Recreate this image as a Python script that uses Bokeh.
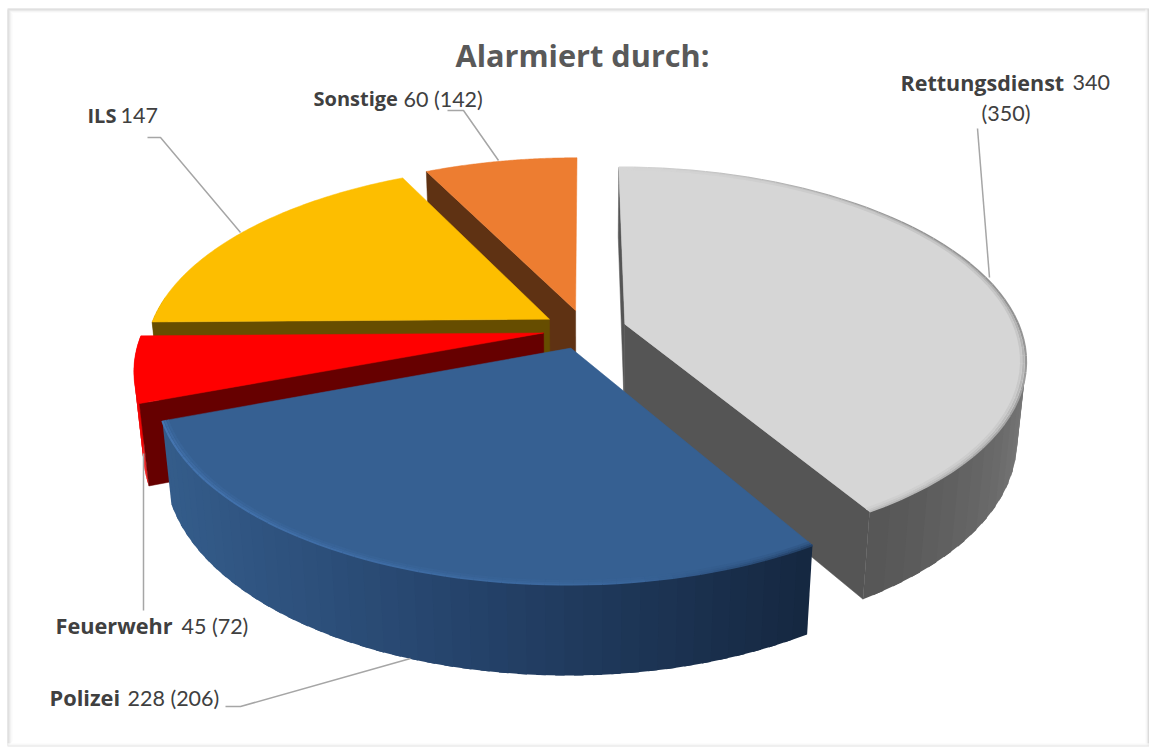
import math
from bokeh.plotting import figure
from bokeh.embed import file_html
from bokeh.resources import INLINE
from bokeh.core.properties import value
from bokeh.models import Range1d

# ---- data -------------------------------------------------------------
categories = ["Rettungsdienst", "Polizei", "Feuerwehr", "ILS", "Sonstige"]
values = [340, 228, 45, 147, 60]
value_labels = ["340", "228 (206)", "45 (72)", "147", "60 (142)"]
top_colors = ["#d6d6d6", "#366092", "#ff0000", "#fdbe00", "#ed7d31"]
cut_colors = ["#555555", "#2b4d75", "#660000", "#664d00", "#5f3213"]
title_text = "Alarmiert durch:"

# ---- projection of the tilted pie --------------------------------------
W, H = 1149, 747
CX, CY, A, B, K = 584.5, 328.8, 395.4, 186.4, 0.1795
LEFT_STRETCH = 1.012
EXPLODE = 0.105
DEPTH_H, DEPTH_M = 80.0, 0.02


def project(px, py, z=0.0):
    w = 1 - K * py + DEPTH_M * z
    ax = A * (LEFT_STRETCH if px < 0 else 1.0)
    return CX + ax * px / w, CY + (B * py + DEPTH_H * z) / w


def rgb(c):
    return "#%02x%02x%02x" % tuple(int(round(max(0, min(255, v)))) for v in c)


def mix(c1, c2, t):
    t = max(0.0, min(1.0, t))
    return [a + (b - a) * t for a, b in zip(c1, c2)]


total = sum(values)
slices = []
start = 0.0
for i, v in enumerate(values):
    sweep = 2 * math.pi * v / total
    mid = start + sweep / 2
    slices.append(dict(i=i, a0=start, a1=start + sweep,
                       ox=EXPLODE * math.sin(mid), oy=-EXPLODE * math.cos(mid)))
    start += sweep


def rim(s, r=1.0, z=0.0, n=90):
    pts = []
    for j in range(n + 1):
        t = s["a0"] + (s["a1"] - s["a0"]) * j / n
        pts.append(project(s["ox"] + r * math.sin(t), s["oy"] - r * math.cos(t), z))
    return pts


def apex(s, z=0.0):
    return project(s["ox"], s["oy"], z)


def outer_color(i, t, x):
    if i == 0:  # light grey slice: lighter towards the right side
        d = math.degrees(t)
        return rgb([85 + 42 * min(1, max(0, (150 - d) / 55))] * 3)
    if i == 1:  # blue slice: horizontal gradient
        f = (x - 165) / (810 - 165)
        if f < 0.45:
            return rgb(mix((52, 92, 138), (37, 67, 107), f / 0.45))
        return rgb(mix((37, 67, 107), (21, 39, 64), (f - 0.45) / 0.55))
    if i == 2:
        return "#f00000"
    if i == 3:
        return "#a88000"
    return "#a85620"


p = figure(width=W, height=H, output_backend="svg", toolbar_location=None,
           x_range=Range1d(0, W), y_range=Range1d(H, 0),
           min_border=0, background_fill_color="white", border_fill_color="white")
p.axis.visible = False
p.grid.visible = False
p.outline_line_color = None

# ---- shaded frame -------------------------------------------------------
for k, g in enumerate([208, 218, 230, 242, 250]):
    p.quad(left=7 + k, right=8 + k, top=9 + k, bottom=745 - k, color=rgb([g] * 3), line_color=None)
for k, g in enumerate([214, 214, 232, 248]):
    p.quad(left=7 + k, right=1149 - k, top=8 + k, bottom=9 + k, color=rgb([g] * 3), line_color=None)
for k, g in enumerate([196, 214, 235, 250]):
    p.quad(left=1148 - k, right=1149 - k, top=9, bottom=745, color=rgb([g] * 3), line_color=None)
for k, g in enumerate([225, 238, 250]):
    p.quad(left=7, right=1149, top=745 - k, bottom=746 - k, color=rgb([g] * 3), line_color=None)

# ---- pie, back to front --------------------------------------------------
for i in [4, 3, 2, 0, 1]:
    s = slices[i]
    ap_t, ap_b = apex(s), apex(s, 1)
    top = rim(s)
    bot = rim(s, z=1)
    # outer wall, only where it faces the viewer, in overlapping strips
    step = 2
    for j in range(0, len(top) - 1, step):
        e = min(j + step + 1, len(top) - 1)
        t = s["a0"] + (s["a1"] - s["a0"]) * (j + e) / 2 / (len(top) - 1)
        if math.cos(t) > 0.12:
            continue
        c = outer_color(i, t, (top[j][0] + top[e][0]) / 2)
        xs = [top[j][0], top[e][0], bot[e][0], bot[j][0]]
        ys = [top[j][1], top[e][1], bot[e][1], bot[j][1]]
        p.patch(xs, ys, fill_color=c, line_color=None)
    # cut faces, only those turned towards the viewer
    faces = []
    if math.sin(s["a0"]) <= 0.01:
        faces.append((top[0], bot[0]))
    if math.sin(s["a1"]) >= -0.01 and i != 4:
        faces.append((top[-1], bot[-1]))
    for a, b in faces:
        xs = [ap_t[0], a[0], b[0], ap_b[0]]
        ys = [ap_t[1], a[1], b[1], ap_b[1]]
        p.patch(xs, ys, fill_color=cut_colors[i], line_color=cut_colors[i], line_width=0.5)
    # top face
    xs = [ap_t[0]] + [q[0] for q in top]
    ys = [ap_t[1]] + [q[1] for q in top]
    p.patch(xs, ys, fill_color=top_colors[i], line_color=top_colors[i], line_width=0.5)
    # bevel along the rim
    if i in (0, 1):
        base = (214, 214, 214) if i == 0 else (54, 96, 146)
        layers = [(1.0, 0.65), (0.994, 0.35), (0.988, 0.15)]
        n = 60
        for r, strength in layers:
            q = rim(s, r=r, n=n)
            for j in range(n):
                f = j / n
                if i == 0:
                    edge = mix((110, 110, 110), (175, 175, 175), max(0, (f - 0.6) / 0.4))
                    if f < 0.35:
                        edge = mix((214, 214, 214), edge, f / 0.35)
                else:
                    if f < 0.22:
                        edge = mix((25, 48, 80), (60, 105, 160), f / 0.22)
                    else:
                        edge = mix((60, 105, 160), (78, 130, 195), (f - 0.22) / 0.78)
                c = rgb(mix(base, edge, strength))
                p.line([q[j][0], q[j + 1][0]], [q[j][1], q[j + 1][1]], line_color=c, line_width=2.2)

# ---- leader lines ---------------------------------------------------------
leaders = [
    ([977, 989], [128, 277]),
    ([447, 463, 498], [110, 110, 160]),
    ([147, 160, 240], [137, 137, 232]),
    ([143, 143], [453, 610]),
    ([225, 240, 410], [706, 706, 658]),
]
for lx, ly in leaders:
    p.line(lx, ly, line_color="#a6a6a6", line_width=1.5)

# ---- texts ------------------------------------------------------------------
LABEL = "#404040"


def name(x, y, txt, size):
    p.text([x], [y], text=[txt], text_font=value("Open Sans"), text_font_size=f"{size}px",
           text_font_style="bold", text_color=LABEL, text_align="left", text_baseline="alphabetic")


def num(x, y, txt):
    p.text([x], [y], text=[txt], text_font=value("Lato"), text_font_size="21.5px",
           text_color=LABEL, text_align="left", text_baseline="alphabetic")


p.text([582], [54], text=[title_text], text_font=value("Open Sans"), text_font_size="30.7px",
       text_font_style="bold", text_color="#595959", text_align="center", text_baseline="alphabetic")

name(900, 82, categories[0], 21.5)
num(1072, 82, value_labels[0])
num(981, 112, "(350)")
name(313, 98, categories[4], 20)
num(403, 98, value_labels[4])
name(87, 115, categories[3], 20)
num(120, 115, value_labels[3])
name(55, 625, categories[2], 21.7)
num(181, 625, value_labels[2])
name(49, 697, categories[1], 21.8)
num(127, 697, value_labels[1])

open("out.html", "w").write(file_html(p, INLINE))
